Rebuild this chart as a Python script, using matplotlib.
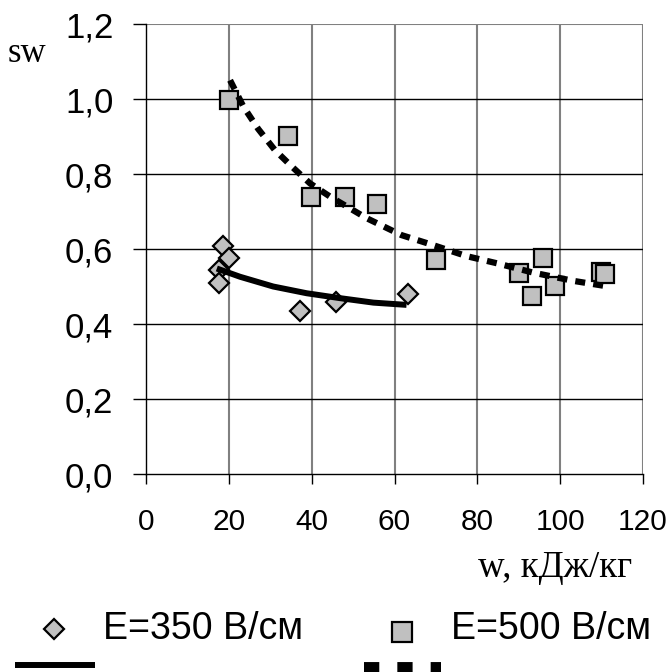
import matplotlib
matplotlib.use("Agg")
import matplotlib.pyplot as plt
from matplotlib.lines import Line2D

# --- data ---
w_350 = [18.7, 20.1, 17.7, 17.7, 37.2, 45.8, 63.2]
s_350 = [0.608, 0.575, 0.544, 0.510, 0.435, 0.458, 0.479]

w_500 = [20.1, 34.2, 39.8, 48.0, 55.8, 69.9, 95.9, 90.1, 98.7, 93.1, 109.9, 110.8]
s_500 = [0.997, 0.901, 0.740, 0.740, 0.719, 0.571, 0.575, 0.537, 0.501, 0.475, 0.539, 0.533]

# trend lines (power fits, as drawn)
tw_350 = [17.1, 22.7, 30.7, 38.8, 46.8, 54.9, 62.9]
ts_350 = [0.548, 0.526, 0.500, 0.482, 0.469, 0.457, 0.451]

tw_500 = [20.3, 23.5, 27.1, 31.1, 35.2, 39.6, 44.4, 53.3, 61.7, 68.6, 77.4, 84.7, 93.5, 103.2, 110.5]
ts_500 = [1.05, 0.98, 0.92, 0.864, 0.82, 0.775, 0.74, 0.682, 0.637, 0.613, 0.581, 0.562, 0.537, 0.515, 0.502]

xticks = [0, 20, 40, 60, 80, 100, 120]
yticks = [0.0, 0.2, 0.4, 0.6, 0.8, 1.0, 1.2]
ytick_labels = ["0,0", "0,2", "0,4", "0,6", "0,8", "1,0", "1,2"]
labels = ["E=350 В/см", "E=500 В/см"]

W, H = 672, 672
fig = plt.figure(figsize=(6.72, 6.72), dpi=100)
plt.rcParams['font.family'] = ['Liberation Sans', 'DejaVu Sans']

ax = fig.add_axes([146 / W, 1 - 474 / H, (643 - 146) / W, (474 - 24) / H])
ax.set_xlim(0, 120)
ax.set_ylim(0, 1.2)

### grid
for x in xticks[1:]:
    ax.axvline(x, color='#808080', lw=1.5, zorder=1)
for y in yticks[1:-1]:
    ax.axhline(y, color='black', lw=1.0, zorder=1)
ax.axhline(1.2, color='#808080', lw=1.5, zorder=1)

for side in ['top', 'right']:
    ax.spines[side].set_visible(False)
ax.spines['left'].set_linewidth(1.0)
ax.spines['bottom'].set_linewidth(1.0)

### points
mk = dict(markerfacecolor='#c0c0c0', markeredgecolor='black', markeredgewidth=1.6, linestyle='none', zorder=3)
ax.plot(w_350, s_350, marker='D', markersize=10.5, **mk)
ax.plot(w_500, s_500, marker='s', markersize=13.5, **mk)

### trend lines
ax.plot(tw_350, ts_350, color='black', lw=4.3, solid_capstyle='butt', zorder=4)
ax.plot(tw_500, ts_500, color='black', lw=4.5, dashes=(1.6, 1.3), dash_capstyle='butt', zorder=4)

### ticks
ax.set_xticks(xticks)
ax.set_xticklabels([str(x) for x in xticks], fontsize=21.5)
ax.set_yticks(yticks)
ax.set_yticklabels(ytick_labels, fontsize=25)
ax.tick_params(axis='x', direction='out', length=7.5, width=1, pad=17)
ax.tick_params(axis='y', direction='out', length=9.5, width=1, pad=14)

### axis labels
fig.text(27 / W, 1 - 53 / H, 'sw', family=['Liberation Serif', 'DejaVu Serif'], fontsize=25,
         ha='center', va='center')
fig.text(555 / W, 1 - 568 / H, 'w, кДж/кг', family=['Liberation Serif', 'DejaVu Serif'], fontsize=26.5,
         ha='center', va='center')

### legend (drawn by hand, bottom of figure)
fig.add_artist(Line2D([54 / W], [1 - 629 / H], marker='D', markersize=10.5, transform=fig.transFigure, **mk))
fig.text(103 / W, 1 - 629 / H, labels[0], fontsize=27, ha='left', va='center')
fig.add_artist(Line2D([402 / W], [1 - 632 / H], marker='s', markersize=14, transform=fig.transFigure, **mk))
fig.text(451 / W, 1 - 629 / H, labels[1], fontsize=27, ha='left', va='center')
fig.add_artist(Line2D([15 / W, 95 / W], [1 - 665 / H, 1 - 665 / H], color='black', lw=4.3,
                      solid_capstyle='butt', transform=fig.transFigure))
fig.add_artist(Line2D([364 / W, 441 / W], [1 - 669 / H, 1 - 669 / H], color='black', lw=10,
                      dashes=(1.1, 1.3), dash_capstyle='butt', transform=fig.transFigure))

fig.savefig('out.png', dpi=100)
